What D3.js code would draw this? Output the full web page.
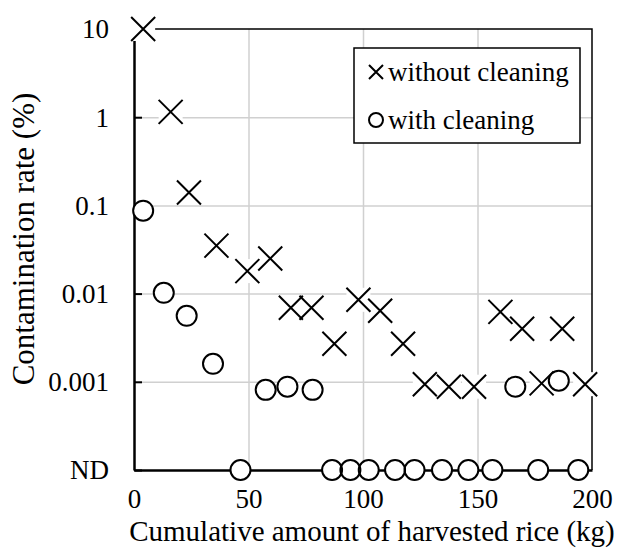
<!DOCTYPE html>
<html>
<head>
<meta charset="utf-8">
<script src="https://cdn.jsdelivr.net/npm/d3@7"></script>
<style>
  body { margin: 0; background: #fff; }
  text { font-family: "Liberation Serif", "Times New Roman", serif; fill: #000; }
</style>
</head>
<body>
<div class="root"></div>
<script>
// values; null = not detected (ND)
const withoutX = [4, 16, 24, 36, 49.5, 59.5, 68.5, 77.5, 87.5, 98, 107.5, 117.5, 127, 137.5, 148.5, 160, 169.5, 178, 187, 197];
const withoutY = [10, 1.15, 0.14, 0.035, 0.018, 0.025, 0.0069, 0.0069, 0.0027, 0.0085, 0.0064, 0.0027, 0.00094, 0.00088, 0.00088, 0.0062, 0.004, 0.00096, 0.004, 0.00094];
const withX = [4, 13, 23, 34.5, 46.5, 57.5, 67, 78, 86.5, 94.5, 102.5, 114, 122.5, 134.5, 146, 156.5, 166.5, 176.5, 185.5, 194];
const withY = [0.087, 0.0102, 0.0056, 0.0016, null, 0.00081, 0.00088, 0.00081, null, null, null, null, null, null, null, null, 0.00088, null, 0.00103, null];

const ndValue = 0.0001;
const yTicks = [0.0001, 0.001, 0.01, 0.1, 1, 10];
const yTickLabels = ['ND', '0.001', '0.01', '0.1', '1', '10'];
const xTicks = [0, 50, 100, 150, 200];
const seriesNames = ['without cleaning', 'with cleaning'];

const width = 627, height = 554;
const margin = {top: 29, left: 134, right: 35, bottom: 84};

const svg = d3.select('.root')
  .append('svg')
  .attr('width', width)
  .attr('height', height);

const x = d3.scaleLinear().domain([0, 200]).range([margin.left, width - margin.right]);
const y = d3.scaleLog().domain([ndValue, 10]).range([height - margin.bottom, margin.top]);

const plotW = x(200) - x(0);
const plotH = y(ndValue) - y(10);

// gridlines
svg.append('g')
  .attr('class', 'grid')
  .attr('transform', `translate(${x(0)},0)`)
  .call(d3.axisLeft(y).tickValues([1, 0.1, 0.01, 0.001]).tickSize(-plotW).tickFormat(''))
  .call(g => g.select('.domain').remove())
  .call(g => g.selectAll('line').attr('stroke', '#d0d0d0').attr('stroke-width', 1.5));

svg.append('g')
  .attr('class', 'grid')
  .attr('transform', `translate(0,${y(ndValue)})`)
  .call(d3.axisBottom(x).tickValues([50, 100, 150]).tickSize(-plotH).tickFormat(''))
  .call(g => g.select('.domain').remove())
  .call(g => g.selectAll('line').attr('stroke', '#d0d0d0').attr('stroke-width', 1.5));

// top and right border
svg.append('path')
  .attr('d', `M${x(0)},${y(10)}H${x(200)}V${y(ndValue)}`)
  .attr('fill', 'none')
  .attr('stroke', '#000')
  .attr('stroke-width', 1.5);

// y axis
const yAxis = svg.append('g')
  .attr('transform', `translate(${x(0)},0)`)
  .call(d3.axisLeft(y).tickValues(yTicks).tickSizeInner(-8).tickSizeOuter(0)
    .tickFormat((d, i) => yTickLabels[i]));
yAxis.select('.domain').attr('stroke', '#000').attr('stroke-width', 2.5);
yAxis.selectAll('.tick line').attr('stroke', '#000').attr('stroke-width', 2);
yAxis.selectAll('.tick text').attr('font-size', 27).attr('x', -25).attr('dy', '0.33em');

// x axis
const xAxis = svg.append('g')
  .attr('transform', `translate(0,${y(ndValue)})`)
  .call(d3.axisBottom(x).tickValues(xTicks).tickSize(0));
xAxis.select('.domain').attr('stroke', '#000').attr('stroke-width', 2.5);
xAxis.selectAll('.tick text').attr('font-size', 27).attr('y', 38).attr('dy', 0);

// axis titles
svg.append('text')
  .attr('x', 372)
  .attr('y', 541)
  .attr('text-anchor', 'middle')
  .attr('font-size', 29)
  .text('Cumulative amount of harvested rice (kg)');

svg.append('text')
  .attr('transform', 'translate(34,239) rotate(-90)')
  .attr('text-anchor', 'middle')
  .attr('font-size', 31)
  .text('Contamination rate (%)');

// markers
const crossData = withoutX.map((v, i) => ({x: v, y: withoutY[i]}));
const circleData = withX.map((v, i) => ({x: v, y: withY[i] === null ? ndValue : withY[i]}));
const cs = 12;

svg.append('g').selectAll('rect')
  .data(crossData)
  .enter()
  .append('rect')
  .attr('x', d => x(d.x) - cs)
  .attr('y', d => y(d.y) - cs)
  .attr('width', cs * 2)
  .attr('height', cs * 2)
  .attr('fill', '#fff');

svg.append('g').selectAll('path')
  .data(crossData)
  .enter()
  .append('path')
  .attr('d', d => {
    const cx = x(d.x), cy = y(d.y);
    return `M${cx - cs},${cy - cs}L${cx + cs},${cy + cs}M${cx - cs},${cy + cs}L${cx + cs},${cy - cs}`;
  })
  .attr('stroke', '#000')
  .attr('stroke-width', 2);

svg.append('g').selectAll('circle')
  .data(circleData)
  .enter()
  .append('circle')
  .attr('cx', d => x(d.x))
  .attr('cy', d => y(d.y))
  .attr('r', 10)
  .attr('fill', '#fff');

svg.append('g').selectAll('circle')
  .data(circleData)
  .enter()
  .append('circle')
  .attr('cx', d => x(d.x))
  .attr('cy', d => y(d.y))
  .attr('r', 10)
  .attr('fill', 'none')
  .attr('stroke', '#000')
  .attr('stroke-width', 2);

// legend
const legend = svg.append('g').attr('transform', 'translate(354,48)');
legend.append('rect')
  .attr('width', 226)
  .attr('height', 95)
  .attr('fill', '#fff')
  .attr('stroke', '#000')
  .attr('stroke-width', 1.5);

legend.append('path')
  .attr('d', 'M15,17L29,31M15,31L29,17')
  .attr('stroke', '#000')
  .attr('stroke-width', 2);
legend.append('circle')
  .attr('cx', 22)
  .attr('cy', 72)
  .attr('r', 7)
  .attr('fill', '#fff')
  .attr('stroke', '#000')
  .attr('stroke-width', 2);

legend.selectAll('.label')
  .data(seriesNames)
  .enter()
  .append('text')
  .attr('class', 'label')
  .attr('x', 34)
  .attr('y', (d, i) => 33 + i * 48)
  .attr('font-size', 27)
  .text(d => d);
</script>
</body>
</html>
